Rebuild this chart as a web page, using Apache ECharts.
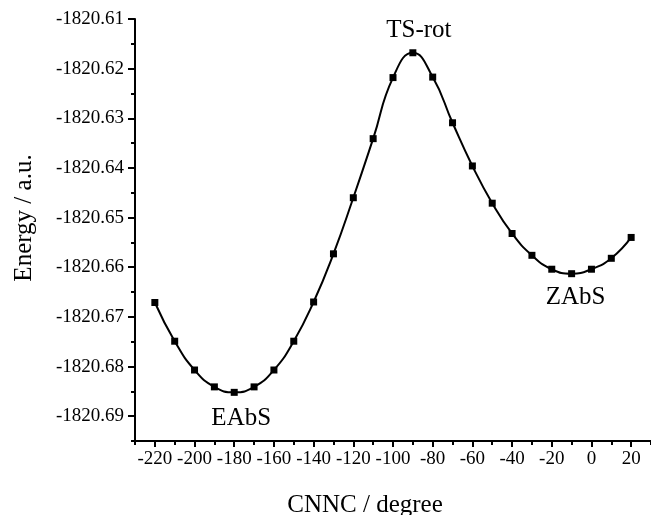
<!DOCTYPE html>
<html>
<head>
<meta charset="utf-8">
<script src="https://cdn.jsdelivr.net/npm/echarts@6/dist/echarts.min.js"></script>
<style>
html,body{margin:0;padding:0;background:#fff;}
#chart{width:651px;height:515px;}
</style>
</head>
<body>
<div id="chart"></div>
<script>
// ---- data ----
var angles = [-220,-210,-200,-190,-180,-170,-160,-150,-140,-130,-120,-110,-100,-90,-80,-70,-60,-50,-40,-30,-20,-10,0,10,20];
var energies = [-1820.6671,-1820.6749,-1820.6807,-1820.6841,-1820.6852,-1820.6841,-1820.6807,-1820.6749,-1820.6670,-1820.6573,-1820.6460,-1820.6341,-1820.6218,-1820.6168,-1820.6217,-1820.6309,-1820.6396,-1820.6471,-1820.6532,-1820.6576,-1820.6604,-1820.6613,-1820.6604,-1820.6582,-1820.6540];
var xTicks = [-220,-200,-180,-160,-140,-120,-100,-80,-60,-40,-20,0,20];
var xMinorTicks = [-230,-210,-190,-170,-150,-130,-110,-90,-70,-50,-30,-10,10,30];
var yTicks = [-1820.69,-1820.68,-1820.67,-1820.66,-1820.65,-1820.64,-1820.63,-1820.62,-1820.61];
var yMinorTicks = [-1820.695,-1820.685,-1820.675,-1820.665,-1820.655,-1820.645,-1820.635,-1820.625,-1820.615];
var annotationNames = ['TS-rot','EAbS','ZAbS'];
var annotationAngles = [-90,-180,-10];

var FONT = '"Liberation Serif", "DejaVu Serif", serif';
var offsets = {'TS-rot':[6,-22],'EAbS':[7,26],'ZAbS':[4,24]};

var seriesData = angles.map(function(a,i){return [a, energies[i]];});
var markData = annotationNames.map(function(n,i){
  var a = annotationAngles[i];
  var e = energies[angles.indexOf(a)];
  return {name:n, coord:[a,e], label:{formatter:n, offset:offsets[n]}};
});

var X_MIN = -230, X_MAX = 30, Y_MIN = -1820.695, Y_MAX = -1820.61;
var axisColor = '#000';

function tickAxis(min, max, values, len, pos){
  return {
    type:'value', min:min, max:max, position:pos, scale:true,
    axisLine:{show:false, onZero:false},
    axisTick:{show:true, inside:false, length:len, customValues:values, lineStyle:{color:axisColor, width:2}},
    axisLabel:{show:false},
    splitLine:{show:false}
  };
}

var chart = echarts.init(document.getElementById('chart'), null, {renderer:'canvas'});
var option = {
  backgroundColor:'#fff',
  animation:false,
  grid:{left:135, right:0, top:19, bottom:74, containLabel:false, outerBoundsMode:'none'},
  xAxis:[{
    type:'value', min:X_MIN, max:X_MAX, position:'bottom',
    name:'CNNC / degree', nameLocation:'middle', nameGap:52,
    nameTextStyle:{fontFamily:FONT, fontSize:25, color:'#000', padding:[0,56,0,0]},
    axisLine:{show:true, onZero:false, lineStyle:{color:axisColor, width:2}},
    axisTick:{show:false},
    axisLabel:{show:true, customValues:xTicks, margin:9, fontFamily:FONT, fontSize:19, color:'#000'},
    splitLine:{show:false}
  },
  tickAxis(X_MIN, X_MAX, xTicks, 6, 'bottom'),
  tickAxis(X_MIN, X_MAX, xMinorTicks, 4, 'bottom')],
  yAxis:[{
    type:'value', min:Y_MIN, max:Y_MAX, scale:true, position:'left',
    name:'Energy / a.u.', nameLocation:'middle', nameGap:98,
    nameTextStyle:{fontFamily:FONT, fontSize:25, color:'#000', padding:[0,0,0,24]},
    axisLine:{show:true, onZero:false, lineStyle:{color:axisColor, width:2}},
    axisTick:{show:false},
    axisLabel:{show:true, customValues:yTicks, margin:11, fontFamily:FONT, fontSize:19, color:'#000',
      formatter:function(v){return v.toFixed(2);}},
    splitLine:{show:false}
  },
  tickAxis(Y_MIN, Y_MAX, yTicks, 7, 'left'),
  tickAxis(Y_MIN, Y_MAX, yMinorTicks, 4, 'left')],
  series:[{
    type:'line',
    xAxisIndex:0, yAxisIndex:0,
    data:seriesData,
    smooth:0.5,
    symbol:'rect', symbolSize:7,
    itemStyle:{color:'#000'},
    lineStyle:{color:'#000', width:2},
    markPoint:{
      symbol:'circle', symbolSize:0,
      label:{show:true, position:'inside', fontFamily:FONT, fontSize:25, color:'#000'},
      data:markData
    }
  }]
};
chart.setOption(option);
</script>
</body>
</html>
